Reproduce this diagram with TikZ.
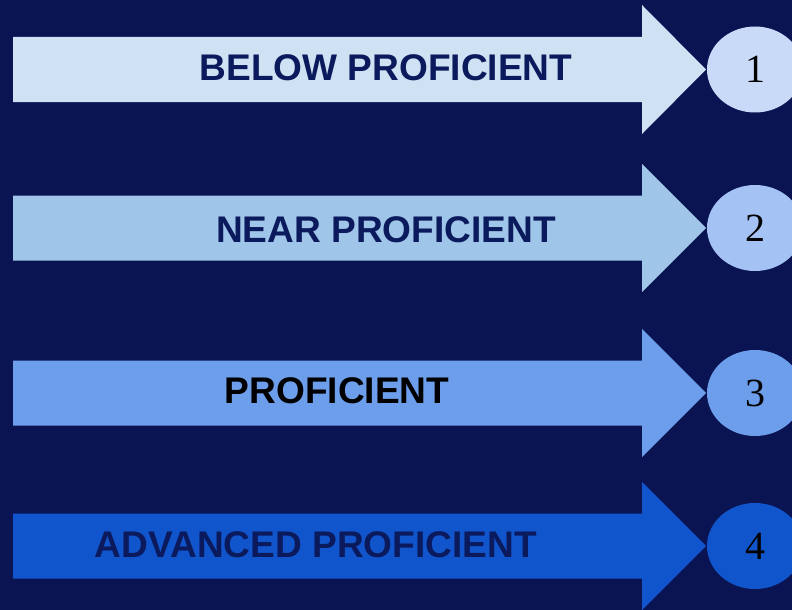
\documentclass[tikz,border=0pt]{standalone}
\usepackage{fontspec}
\setmainfont{Liberation Sans}
\newfontfamily\numfont{Liberation Serif}
\usepackage{tikz}
\usetikzlibrary{shapes.geometric}
\definecolor{navybg}{HTML}{0A1453}
\definecolor{navytext}{HTML}{0B1A5C}
\definecolor{levelA}{HTML}{CFE2F3}
\definecolor{levelB}{HTML}{9FC5E8}
\definecolor{levelC}{HTML}{6D9EEB}
\definecolor{levelD}{HTML}{1155CC}
\definecolor{circA}{HTML}{C9DAF8}
\definecolor{circB}{HTML}{A4C2F4}
\tikzset{lvl/.style = {font=\fontsize{27.8}{30}\selectfont\bfseries, inner sep=0}}
\tikzset{badge/.style = {ellipse, minimum width=72pt, minimum height=64.5pt,
                         inner sep=0, font=\numfont\fontsize{30}{32}\selectfont}}

\begin{document}
\begin{tikzpicture}[x=0.75pt, y=-0.75pt]
      \fill [navybg] (0, 0) rectangle (792, 610);
      \useasboundingbox (0, 0) rectangle (792, 610);

      \fill [levelA] (13, 37) -- (642, 37) -- (642, 5) -- (706, 69.5) -- (642, 134) -- (642, 102) -- (13, 102) -- cycle;
      \fill [levelB] (13, 195.5) -- (642, 195.5) -- (642, 164) -- (706, 228) -- (642, 292) -- (642, 260.5) -- (13, 260.5) -- cycle;
      \fill [levelC] (13, 360.5) -- (642, 360.5) -- (642, 329) -- (706, 393) -- (642, 457) -- (642, 425.5) -- (13, 425.5) -- cycle;
      \fill [levelD] (13, 513.5) -- (642, 513.5) -- (642, 482) -- (706, 546) -- (642, 610) -- (642, 578.5) -- (13, 578.5) -- cycle;

      \node [lvl, text=navytext] (below) at (386, 68) {BELOW PROFICIENT};
      \node [lvl, text=navytext] (near) at (386, 230) {NEAR PROFICIENT};
      \node [lvl, text=black] (prof) at (337, 391) {PROFICIENT};
      \node [lvl, text=navytext] (adv) at (316, 545) {ADVANCED PROFICIENT};

      \node [badge, fill=circA] (one) at (755, 69.5) {1};
      \node [badge, fill=circB] (two) at (755, 228) {2};
      \node [badge, fill=levelC] (three) at (755, 393) {3};
      \node [badge, fill=levelD] (four) at (755, 546) {4};
    \end{tikzpicture}
\end{document}
